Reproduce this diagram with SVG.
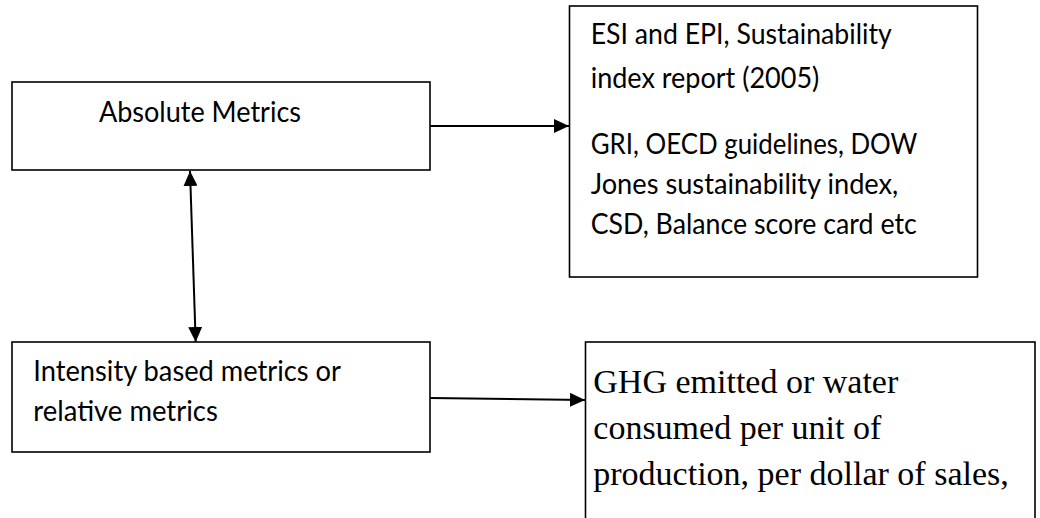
<svg xmlns="http://www.w3.org/2000/svg" width="1040" height="518" viewBox="0 0 1040 518">
<style>
.box{fill:#fff;stroke:#000;stroke-width:1.6}
.c{font-family:Lato,"Open Sans","Liberation Sans",sans-serif;font-size:28px;fill:#000}
.t{font-family:"Liberation Serif","Times New Roman",serif;font-size:34px;fill:#000}
.ln{fill:none;stroke:#000;stroke-width:2}
</style>
<defs>
<marker id="ah" markerUnits="userSpaceOnUse" markerWidth="16" markerHeight="14" refX="15" refY="7" orient="auto-start-reverse" viewBox="0 0 16 14">
<path d="M0,0 L15,7 L0,14 z" fill="#000"/>
</marker>
</defs>
<g id="absolute">
<rect class="box" x="12" y="82" width="418" height="88"/>
<text class="c" x="99" y="121.5" textLength="202" lengthAdjust="spacingAndGlyphs">Absolute Metrics</text>
</g>
<g id="indices">
<rect class="box" x="569.5" y="6" width="408" height="271"/>
<text class="c" x="590.7" y="44" textLength="301" lengthAdjust="spacingAndGlyphs">ESI and EPI, Sustainability</text>
<text class="c" x="590.7" y="87.5" textLength="228.6" lengthAdjust="spacingAndGlyphs">index report (2005)</text>
<text class="c" x="590.7" y="154" textLength="326.6" lengthAdjust="spacingAndGlyphs">GRI, OECD guidelines, DOW</text>
<text class="c" x="590.7" y="194" textLength="307.6" lengthAdjust="spacingAndGlyphs">Jones sustainability index,</text>
<text class="c" x="590.7" y="234" textLength="326" lengthAdjust="spacingAndGlyphs">CSD, Balance score card etc</text>
</g>
<g id="intensity">
<rect class="box" x="12" y="342" width="418" height="110"/>
<text class="c" x="33.3" y="381" textLength="307.7" lengthAdjust="spacingAndGlyphs">Intensity based metrics or</text>
<text class="c" x="33.3" y="421" textLength="184.5" lengthAdjust="spacingAndGlyphs">relative metrics</text>
</g>
<g id="ghg">
<rect class="box" x="585.5" y="342" width="449.5" height="200"/>
<text class="t" x="593.3" y="393.3">GHG emitted or water</text>
<text class="t" x="593.3" y="439.3">consumed per unit of</text>
<text class="t" x="593.3" y="485">production, per dollar of sales,</text>
</g>
<g id="connectors">
<line class="ln" x1="430" y1="126" x2="569" y2="126" marker-end="url(#ah)"/>
<line class="ln" x1="190" y1="171" x2="195.7" y2="342" marker-start="url(#ah)" marker-end="url(#ah)"/>
<line class="ln" x1="430" y1="398" x2="585" y2="400" marker-end="url(#ah)"/>
</g>
</svg>
